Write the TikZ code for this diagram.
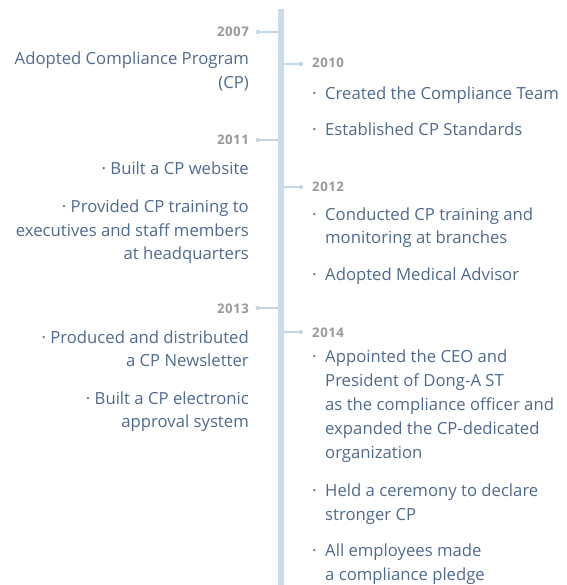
\documentclass[tikz,border=0pt]{standalone}
\usepackage{fontspec}
\setmainfont{Open Sans}
\newfontfamily\yearfont[LetterSpace=4]{Open Sans}
\definecolor{txt}{HTML}{4F6A8C}
\definecolor{yr}{HTML}{999999}
\definecolor{bar}{HTML}{CBDBEA}
\definecolor{conn}{HTML}{C6D6E6}
\begin{document}
\begin{tikzpicture}[x=1pt,y=-1pt,
  lt/.style={anchor=base east,inner sep=0,text=txt,font=\fontsize{16.7}{24}\selectfont},
  rt/.style={anchor=base west,inner sep=0,text=txt,font=\fontsize{16.7}{24}\selectfont},
  yl/.style={anchor=base east,inner sep=0,text=yr,font=\yearfont\fontsize{13.2}{14}\selectfont\bfseries},
  yrr/.style={anchor=base west,inner sep=0,text=yr,font=\yearfont\fontsize{13.2}{14}\selectfont\bfseries},
  dotc/.style={circle,fill=conn,inner sep=0,minimum size=4.5pt},
  cline/.style={draw=conn,line width=1.3pt}]
\useasboundingbox (0,0) rectangle (566,585);
\fill[bar] (278,9) rectangle (284,585);
% left side
\node[yl] (y2007) at (249,37) {2007};
\node[lt] (l1a) at (249,65) {Adopted Compliance Program};
\node[lt] (l1b) at (249,89) {(CP)};
\node[yl] (y2011) at (249,145) {2011};
\node[lt] (l2a) at (249,175) {· Built a CP website};
\node[lt] (l3a) at (249,212) {· Provided CP training to};
\node[lt] (l3b) at (249,236) {executives and staff members};
\node[lt] (l3c) at (249,259) {at headquarters};
\node[yl] (y2013) at (249,313) {2013};
\node[lt] (l4a) at (249,343) {· Produced and distributed};
\node[lt] (l4b) at (249,366) {a CP Newsletter};
\node[lt] (l5a) at (249,404) {· Built a CP electronic};
\node[lt] (l5b) at (249,427) {approval system};
% right side
\node[yrr] (y2010) at (312,68) {2010};
\node[rt] (b1) at (312,100) {·};
\node[rt] (r1a) at (325,100) {Created the Compliance Team};
\node[rt] (b2) at (312,136) {·};
\node[rt] (r2a) at (325,136) {Established CP Standards};
\node[yrr] (y2012) at (312,192) {2012};
\node[rt] (b3) at (312,220) {·};
\node[rt] (r3a) at (325,220) {Conducted CP training and};
\node[rt] (r3b) at (325,243) {monitoring at branches};
\node[rt] (b4) at (312,280) {·};
\node[rt] (r4a) at (325,280) {Adopted Medical Advisor};
\node[yrr] (y2014) at (312,337) {2014};
\node[rt] (b5) at (312,362) {·};
\node[rt] (r5a) at (325,362) {Appointed the CEO and};
\node[rt] (r5b) at (325,386) {President of Dong-A ST};
\node[rt] (r5c) at (325,410) {as the compliance officer and};
\node[rt] (r5d) at (325,434) {expanded the CP-dedicated};
\node[rt] (r5e) at (325,458) {organization};
\node[rt] (b6) at (312,496) {·};
\node[rt] (r6a) at (325,496) {Held a ceremony to declare};
\node[rt] (r6b) at (325,520) {stronger CP};
\node[rt] (b7) at (312,556) {·};
\node[rt] (r7a) at (325,556) {All employees made};
\node[rt] (r7b) at (325,580) {a compliance pledge};
% dots and connectors
\node[dotc] (d2007) at (258,32) {};
\node[dotc] (d2011) at (258,140) {};
\node[dotc] (d2013) at (258,308) {};
\node[dotc] (d2010) at (301,64) {};
\node[dotc] (d2012) at (301,187) {};
\node[dotc] (d2014) at (301,332) {};
\coordinate (c2007) at (278,32);
\coordinate (c2011) at (278,140);
\coordinate (c2013) at (278,308);
\coordinate (c2010) at (284,64);
\coordinate (c2012) at (284,187);
\coordinate (c2014) at (284,332);
\draw[cline] (d2007.center) -- (c2007);
\draw[cline] (d2011.center) -- (c2011);
\draw[cline] (d2013.center) -- (c2013);
\draw[cline] (c2010) -- (d2010.center);
\draw[cline] (c2012) -- (d2012.center);
\draw[cline] (c2014) -- (d2014.center);
\end{tikzpicture}
\end{document}
